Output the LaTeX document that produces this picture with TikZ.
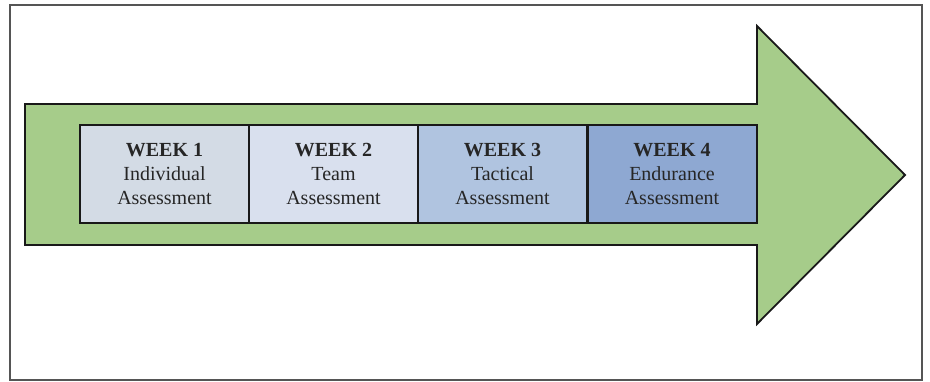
\documentclass[tikz,border=0pt]{standalone}
\usepackage{fontspec}
\setmainfont{Liberation Serif}
\definecolor{arrowgreen}{HTML}{A6CC8A}
\definecolor{weekA}{HTML}{D3DBE5}
\definecolor{weekB}{HTML}{D9E0EE}
\definecolor{weekC}{HTML}{B0C4E0}
\definecolor{weekD}{HTML}{8EA8D2}
\definecolor{framegray}{HTML}{555555}
\tikzset{
  weekbox/.style={draw=black!90, line width=2pt, minimum width=169pt, minimum height=98pt,
    inner sep=0pt, align=center, font=\fontsize{20}{24}\selectfont, text=black!85},
}
\begin{document}
\begin{tikzpicture}[x=1pt,y=-1pt]
  \useasboundingbox (0,0) rectangle (930,382);
  % outer frame
  \draw[framegray, line width=1.3pt] (10,5) rectangle (922,380);
  % large arrow
  \draw[fill=arrowgreen, draw=black!90, line width=1.8pt, line join=miter]
    (25,104) -- (757,104) -- (757,26) -- (905,175) -- (757,324) -- (757,245) -- (25,245) -- cycle;
  % week boxes
  \node[weekbox, fill=weekA] (w1) at (164.5,174) {\textbf{WEEK 1}\\Individual\\Assessment};
  \node[weekbox, fill=weekB] (w2) at (333.5,174) {\textbf{WEEK 2}\\Team\\Assessment};
  \node[weekbox, fill=weekC] (w3) at (502.5,174) {\textbf{WEEK 3}\\Tactical\\Assessment};
  \node[weekbox, fill=weekD] (w4) at (672,174) {\textbf{WEEK 4}\\Endurance\\Assessment};
\end{tikzpicture}
\end{document}
